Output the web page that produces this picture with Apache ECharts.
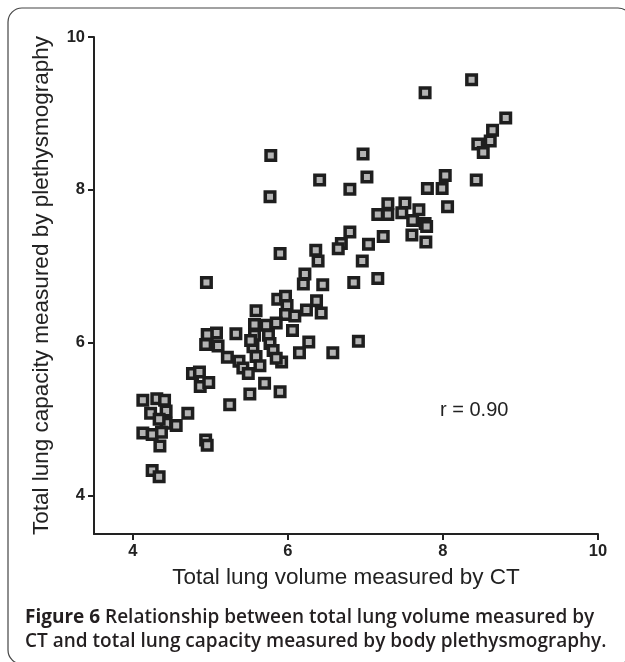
<!DOCTYPE html>
<html>
<head>
<meta charset="utf-8">
<script src="https://cdn.jsdelivr.net/npm/echarts@6/dist/echarts.min.js"></script>
<style>
html,body{margin:0;padding:0;background:#fff;}
#chart{width:625px;height:662px;}
</style>
</head>
<body>
<div id="chart"></div>
<script>
// Total lung volume measured by CT (x)
var ctVolume = [
  8.37,7.77,8.81,8.64,8.61,8.45,8.52,8.43,8.03,7.99,7.80,8.06,
  5.78,5.77,6.41,6.97,7.02,6.80,
  7.29,7.51,7.16,7.29,7.47,7.69,7.61,7.77,7.79,7.60,7.78,
  6.80,6.69,6.65,7.23,7.04,6.96,6.36,6.39,5.90,
  6.22,6.20,6.45,6.85,7.16,4.95,
  5.87,5.97,5.99,5.59,5.97,6.09,6.24,6.37,6.43,
  5.85,5.72,5.57,6.06,5.57,5.75,5.33,5.08,4.96,
  4.94,5.10,5.55,5.52,5.77,5.81,6.27,6.15,6.58,6.91,
  5.59,5.22,5.37,5.64,5.92,5.85,5.42,5.49,
  4.77,4.86,4.87,4.98,5.70,5.90,5.51,5.25,
  4.13,4.31,4.41,4.23,4.43,4.71,4.43,4.56,4.34,4.13,4.25,4.37,4.35,4.94,4.96,4.25,4.34
];
// Total lung capacity measured by plethysmography (y)
var tlcPleth = [
  9.44,9.27,8.94,8.78,8.64,8.60,8.49,8.13,8.19,8.02,8.02,7.78,
  8.45,7.91,8.13,8.47,8.17,8.01,
  7.82,7.83,7.68,7.68,7.70,7.74,7.60,7.56,7.52,7.41,7.32,
  7.45,7.30,7.23,7.39,7.29,7.07,7.21,7.07,7.17,
  6.90,6.77,6.76,6.79,6.84,6.79,
  6.57,6.61,6.49,6.42,6.37,6.35,6.43,6.55,6.39,
  6.26,6.23,6.24,6.16,6.10,6.10,6.12,6.13,6.11,
  5.98,5.96,5.95,6.03,5.99,5.90,6.01,5.87,5.87,6.02,
  5.82,5.81,5.76,5.70,5.75,5.80,5.67,5.60,
  5.60,5.62,5.43,5.48,5.47,5.36,5.33,5.19,
  5.25,5.27,5.25,5.08,5.11,5.08,4.95,4.92,5.00,4.82,4.80,4.83,4.65,4.73,4.66,4.33,4.25
];
var tickValues = [4, 6, 8, 10];
var xTitle = 'Total lung volume measured by CT';
var yTitle = 'Total lung capacity measured by plethysmography';
var rText = 'r = 0.90';
var captionBold = 'Figure 6';
var captionLine1 = ' Relationship between total lung volume measured by';
var captionLine2 = 'CT and total lung capacity measured by body plethysmography.';

var points = ctVolume.map(function (x, i) { return [x, tlcPleth[i]]; });

var chart = echarts.init(document.getElementById('chart'), null, {renderer: 'canvas'});
var axisCommon = {
  type: 'value',
  min: 3.5,
  max: 10,
  splitLine: {show: false},
  axisLine: {show: true, lineStyle: {color: '#222', width: 2}},
  axisTick: {show: true, customValues: tickValues, length: 6, lineStyle: {color: '#222', width: 2}},
  axisLabel: {customValues: tickValues, color: '#222', fontWeight: 'bold', fontSize: 16.5, fontFamily: 'Liberation Sans, Arial, sans-serif', margin: 9},
  nameLocation: 'middle',
  nameTextStyle: {color: '#222', fontSize: 22.5, fontFamily: 'Liberation Sans, Arial, sans-serif'}
};
chart.setOption({
  animation: false,
  backgroundColor: '#fff',
  grid: {left: 94, right: 27, top: 37, bottom: 128, containLabel: false},
  xAxis: Object.assign({}, axisCommon, {name: xTitle, nameGap: 32}),
  yAxis: Object.assign({}, axisCommon, {name: yTitle, nameGap: 41}),
  series: [{
    type: 'scatter',
    data: points,
    symbol: 'rect',
    symbolSize: 9.5,
    itemStyle: {color: '#b4b4b4', borderColor: '#1e1e1e', borderWidth: 3.5, opacity: 1}
  }],
  graphic: [
    {type: 'rect', shape: {x: 8, y: 8, width: 624, height: 656, r: 14}, style: {fill: null, stroke: '#444', lineWidth: 1.2}, z: -1},
    {type: 'text', x: 440, y: 410, style: {text: rText, fontSize: 20, fontFamily: 'Liberation Sans, Arial, sans-serif', fill: '#222', verticalAlign: 'middle'}},
    {type: 'text', x: 25, y: 618, style: {
      text: '{b|' + captionBold + '}' + captionLine1,
      fontSize: 19, fontWeight: 600, fontFamily: 'Open Sans, sans-serif', fill: '#231f20', verticalAlign: 'middle',
      rich: {b: {fontWeight: 'bold', fontSize: 19, fontFamily: 'Open Sans, sans-serif', fill: '#231f20'}}
    }},
    {type: 'text', x: 25, y: 642, style: {
      text: captionLine2,
      fontSize: 19, fontWeight: 600, fontFamily: 'Open Sans, sans-serif', fill: '#231f20', verticalAlign: 'middle'
    }}
  ]
});
</script>
</body>
</html>
